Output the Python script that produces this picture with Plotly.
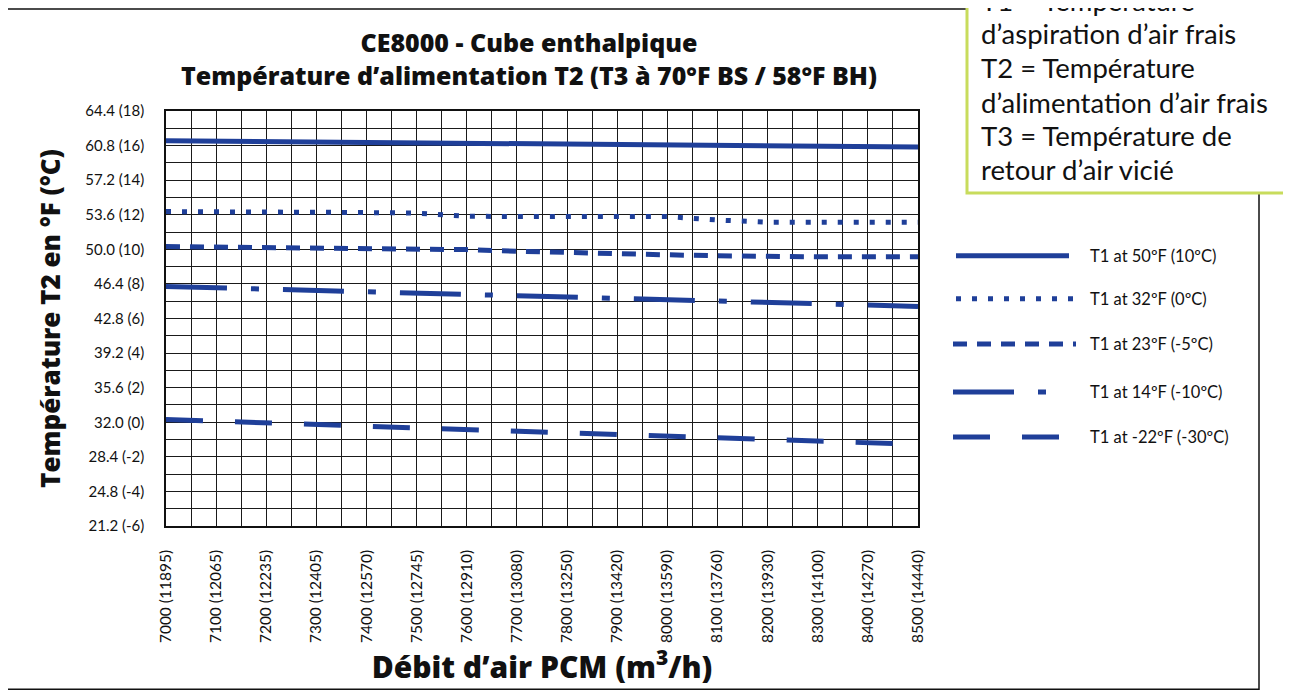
import plotly.graph_objects as go

# ---------------- data ----------------
cfm = [7000, 7100, 7200, 7300, 7400, 7500, 7600, 7700, 7800, 7900,
       8000, 8100, 8200, 8300, 8400, 8500]
m3h = [11895, 12065, 12235, 12405, 12570, 12745, 12910, 13080, 13250, 13420,
       13590, 13760, 13930, 14100, 14270, 14440]

t1_50 = [61.30, 61.26, 61.22, 61.17, 61.13, 61.08, 61.04, 60.99, 60.95, 60.90,
         60.86, 60.82, 60.78, 60.73, 60.69, 60.65]
t1_32 = [53.93, 53.93, 53.90, 53.88, 53.83, 53.77, 53.45, 53.41, 53.41, 53.41,
         53.41, 53.05, 52.83, 52.83, 52.83, 52.83]
t1_23 = [50.29, 50.25, 50.20, 50.17, 50.10, 50.05, 49.97, 49.80, 49.64, 49.53,
         49.43, 49.33, 49.25, 49.22, 49.22, 49.22]
t1_14 = [46.14, 46.00, 45.86, 45.72, 45.58, 45.45, 45.31, 45.17, 45.03, 44.89,
         44.75, 44.61, 44.47, 44.34, 44.20, 44.06]
t1_m22 = [32.28, 32.11, 31.93, 31.76, 31.59, 31.42, 31.24, 31.07, 30.90, 30.73,
          30.55, 30.38, 30.21, 30.04, 29.86, 29.69]

series_names = ["T1 at 50ºF (10ºC)", "T1 at 32ºF (0ºC)", "T1 at 23ºF (-5ºC)",
                "T1 at 14ºF (-10ºC)", "T1 at -22ºF (-30ºC)"]
series_values = [t1_50, t1_32, t1_23, t1_14, t1_m22]
series_dash = ["solid", "5px,11px", "14px,10px", "61px,24px,8px,24px", "37px,32px"]

y_f = [21.2, 24.8, 28.4, 32.0, 35.6, 39.2, 42.8, 46.4, 50.0, 53.6, 57.2, 60.8, 64.4]
y_c = [-6, -4, -2, 0, 2, 4, 6, 8, 10, 12, 14, 16, 18]

box_lines = ["T1 = Température", "d’aspiration d’air frais", "T2 = Température",
             "d’alimentation d’air frais", "T3 = Température de", "retour d’air vicié"]

# ---------------- style / geometry ----------------
BLUE = "#1F3F99"
OFF = 8                      # page body margin
W, H = 1291 - OFF, 698 - OFF
L, R, T, B = 166 - OFF, 918 - OFF, 111 - OFF, 526.5 - OFF
FONT = "Lato"
BOLD = "Open Sans"


def px(x):
    return (x - OFF - L) / (R - L)


def py(y):
    return (B - (y - OFF)) / (B - T)


fig = go.Figure()
for name, vals, dash in zip(series_names, series_values, series_dash):
    fig.add_trace(go.Scatter(x=cfm, y=vals, mode="lines", name=name,
                             line=dict(color=BLUE, width=5, dash=dash),
                             showlegend=False))

x_labels = [f"{c} ({m})" for c, m in zip(cfm, m3h)]
x_minor = [c + 50 for c in cfm[:-1]]
y_labels = [f"{f:.1f} ({c})" for f, c in zip(y_f, y_c)]
y_minor = [round(f + 1.8, 2) for f in y_f[:-1]]

GRID = "#1a1a1a"
fig.update_xaxes(range=[7000, 8500], tickmode="array", tickvals=cfm, ticktext=x_labels,
                 tickangle=-90, tickfont=dict(family=FONT, size=15.5, color="#111"),
                 showgrid=True, gridcolor=GRID, gridwidth=1.4,
                 minor=dict(tickvals=x_minor, showgrid=True, gridcolor=GRID, gridwidth=1.4,
                            ticks=""),
                 showline=True, linecolor="#111", linewidth=1.5, mirror=True,
                 ticks="outside", ticklen=16, tickcolor="rgba(0,0,0,0)", zeroline=False,
                 title=dict(text="Débit d’air PCM (m<sup>3</sup>/h)",
                            font=dict(family=BOLD, size=30, color="#111", weight=800),
                            standoff=4))
fig.update_yaxes(range=[21.2, 64.4], tickmode="array", tickvals=y_f, ticktext=y_labels,
                 tickfont=dict(family=FONT, size=15, color="#111"),
                 showgrid=True, gridcolor=GRID, gridwidth=1.4,
                 minor=dict(tickvals=y_minor, showgrid=True, gridcolor=GRID, gridwidth=1.4,
                            ticks=""),
                 showline=True, linecolor="#111", linewidth=1.5, mirror=True,
                 ticks="outside", ticklen=17, tickcolor="rgba(0,0,0,0)", zeroline=False,
                 title=dict(text="Température T2 en °F (°C)",
                            font=dict(family=BOLD, size=26, color="#111", weight=800),
                            standoff=17))

shapes = []
# outer frame
shapes.append(dict(type="rect", xref="paper", yref="paper",
                   x0=px(4), x1=px(1259), y0=py(690), y1=py(9),
                   line=dict(color="#111", width=1.5), fillcolor="rgba(0,0,0,0)",
                   layer="below"))
# definition box
shapes.append(dict(type="rect", xref="paper", yref="paper",
                   x0=px(967), x1=px(1288), y0=py(193), y1=py(-10),
                   line=dict(color="#C8DC5C", width=3), fillcolor="white", layer="above"))

# legend samples
leg_y = [256, 299, 344.3, 392.3, 437.3]
leg_x0 = [956, 956, 953, 953, 953]
leg_x1 = [1069, 1073, 1076, 1047, 1061]
for yy, x0, x1, dash in zip(leg_y, leg_x0, leg_x1, series_dash):
    shapes.append(dict(type="line", xref="paper", yref="paper",
                       x0=px(x0), x1=px(x1), y0=py(yy), y1=py(yy),
                       line=dict(color=BLUE, width=5, dash=dash)))

annotations = []
for yy, name in zip(leg_y, series_names):
    annotations.append(dict(xref="paper", yref="paper", x=px(1088), y=py(yy),
                            xanchor="left", yanchor="middle", showarrow=False,
                            text=name, font=dict(family=FONT, size=16.5, color="#111")))

box_y = [0, 33, 67, 102, 136, 170]
for yy, line in zip(box_y, box_lines):
    annotations.append(dict(xref="paper", yref="paper", x=px(979), y=py(yy),
                            xanchor="left", yanchor="middle", showarrow=False,
                            text=line, font=dict(family=FONT, size=27.5, color="#111")))

fig.update_layout(
    width=W, height=H,
    margin=dict(l=L, r=W - R, t=T, b=H - B, autoexpand=False),
    paper_bgcolor="white", plot_bgcolor="white",
    title=dict(text="CE8000 - Cube enthalpique<br>Température d’alimentation T2 (T3 à 70°F BS / 58°F BH)",
               x=(529 - OFF) / W, xanchor="center", y=1 - (52 - OFF) / H, yanchor="middle",
               font=dict(family=BOLD, size=25, color="#111", weight=800)),
    shapes=shapes, annotations=annotations,
)

fig.write_html("out.html")
